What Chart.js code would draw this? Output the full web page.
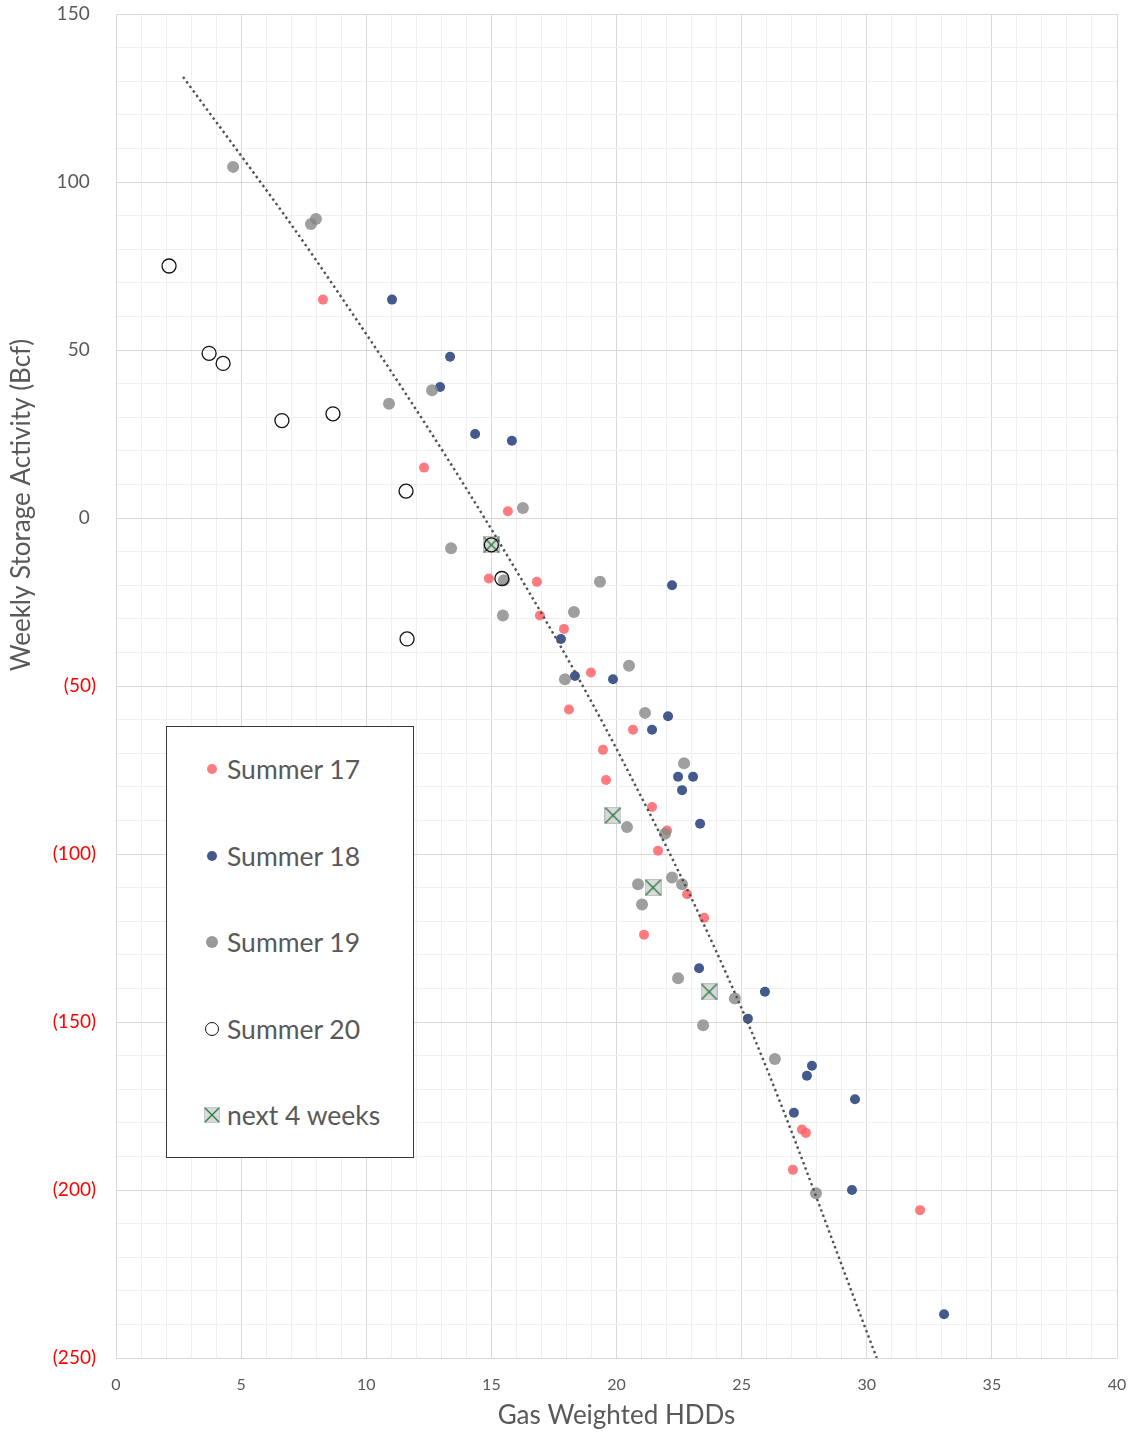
<!DOCTYPE html>
<html>
<head>
<meta charset="utf-8">
<script src="https://cdn.jsdelivr.net/npm/chart.js@4.4.1/dist/chart.umd.min.js"></script>
<style>
  body { margin: 0; background: #fff; }
  #wrap { position: relative; width: 1135px; height: 1433px; }
  #legend {
    position: absolute; left: 166px; top: 726px; width: 248px; height: 432px;
    box-sizing: border-box; border: 1px solid #3a3a3a; background: #fff;
    font-family: Lato, sans-serif; font-size: 26.5px; color: #595959;
  }
  .item { position: absolute; left: 0; height: 30px; line-height: 30px; white-space: nowrap; }
  .item span.txt { position: absolute; left: 60px; top: 0; }
  .item .mk { position: absolute; }
</style>
</head>
<body>
<div id="wrap">
  <canvas id="chart"></canvas>
  <div id="legend"></div>
</div>
<script>
// Summer 17
const s17x = [8.27, 12.31, 15.66, 14.9, 16.82, 16.94, 17.9, 18.98, 18.1, 20.66, 19.46, 19.58, 21.42, 22.02, 21.66, 22.82, 23.5, 21.1, 27.41, 27.57, 27.05, 32.13];
const s17y = [65, 15, 2, -18, -19, -29, -33, -46, -57, -63, -69, -78, -86, -93, -99, -112, -119, -124, -182, -183, -194, -206];
// Summer 18
const s18x = [11.03, 13.35, 12.95, 14.35, 15.82, 22.22, 17.78, 18.34, 19.86, 22.06, 21.42, 22.46, 23.06, 22.62, 23.34, 23.3, 25.93, 25.25, 27.81, 27.61, 29.53, 27.09, 29.41, 33.09];
const s18y = [65, 48, 39, 25, 23, -20, -36, -47, -48, -59, -63, -77, -77, -81, -91, -134, -141, -149, -163, -166, -173, -177, -200, -237];
// Summer 19
const s19x = [4.68, 7.99, 7.79, 12.63, 10.91, 16.26, 13.39, 15.5, 15.46, 19.34, 18.3, 20.5, 17.94, 21.14, 22.7, 20.42, 21.94, 22.22, 22.62, 20.86, 21.02, 22.46, 24.73, 23.46, 26.33, 27.97];
const s19y = [104.5, 89, 87.5, 38, 34, 3, -9, -18.5, -29, -19, -28, -44, -48, -58, -73, -92, -94, -107, -109, -109, -115, -137, -143, -151, -161, -201];
// Summer 20
const s20x = [2.12, 3.72, 4.28, 6.63, 8.67, 11.59, 15.0, 15.42, 11.63];
const s20y = [75, 49, 46, 29, 31, 8, -8, -18, -36];
// next 4 weeks
const n4x = [15.0, 19.86, 21.46, 23.7];
const n4y = [-8, -88.5, -110, -141];
// trend line
const trendX = [2.68, 7.99, 15.02, 20.02, 25.25, 30.4];
const trendY = [131.3, 76.8, -3.6, -69, -150.3, -250];

const xTicks = [0, 5, 10, 15, 20, 25, 30, 35, 40];
const yTicks = [150, 100, 50, 0, -50, -100, -150, -200, -250];

const pts = (xs, ys) => xs.map((x, i) => ({ x: x, y: ys[i] }));

const pink = 'rgba(255,100,106,0.85)';
const blue = 'rgba(58,80,134,0.95)';
const grey = 'rgba(135,135,135,0.8)';

// square with green X for "next 4 weeks"
function xBox(size) {
  const c = document.createElement('canvas');
  c.width = size; c.height = size;
  const g = c.getContext('2d');
  g.fillStyle = '#d9d9d9';
  g.fillRect(0.5, 0.5, size - 1, size - 1);
  g.strokeStyle = '#bfbfbf';
  g.lineWidth = 1;
  g.strokeRect(0.5, 0.5, size - 1, size - 1);
  g.strokeStyle = '#1f7a3c';
  g.lineWidth = 1.3;
  g.beginPath();
  g.moveTo(1, 1); g.lineTo(size - 1, size - 1);
  g.moveTo(size - 1, 1); g.lineTo(1, size - 1);
  g.stroke();
  return c;
}

const yTitle = {
  id: 'yTitle',
  afterDraw(chart) {
    const c = chart.ctx;
    c.save();
    c.translate(22, 505);
    c.rotate(-Math.PI / 2);
    c.font = '26px Lato';
    c.fillStyle = '#595959';
    c.textAlign = 'center';
    c.textBaseline = 'middle';
    c.fillText('Weekly Storage Activity (Bcf)', 0, 0);
    c.restore();
  }
};

const ctx = document.getElementById('chart').getContext('2d');
new Chart(ctx, {
  type: 'scatter',
  data: {
    datasets: [
      { label: 'trend', type: 'line', data: pts(trendX, trendY), borderColor: '#505050', borderWidth: 2.4,
        borderDash: [2.4, 3.2], borderCapStyle: 'butt', pointRadius: 0, cubicInterpolationMode: 'monotone', fill: false, order: 0 },
      { label: 'next 4 weeks', data: pts(n4x, n4y), pointStyle: xBox(17), order: 2 },
      { label: 'Summer 20', data: pts(s20x, s20y), pointRadius: 7, backgroundColor: 'rgba(0,0,0,0)',
        borderColor: '#111', borderWidth: 1.3, order: 1 },
      { label: 'Summer 19', data: pts(s19x, s19y), pointRadius: 6, backgroundColor: grey, borderWidth: 0, order: 3 },
      { label: 'Summer 18', data: pts(s18x, s18y), pointRadius: 5, backgroundColor: blue, borderWidth: 0, order: 4 },
      { label: 'Summer 17', data: pts(s17x, s17y), pointRadius: 5, backgroundColor: pink, borderWidth: 0, order: 5 }
    ]
  },
  options: {
    responsive: true,
    maintainAspectRatio: false,
    animation: false,
    layout: { padding: { top: 14, right: 18, left: 0, bottom: 0 } },
    plugins: { legend: { display: false }, tooltip: { enabled: false } },
    scales: {
      x: {
        type: 'linear', min: 0, max: 40,
        afterFit: s => { s.height = 75; s.paddingLeft = 0; s.paddingRight = 0; },
        ticks: {
          stepSize: 1, autoSkip: false, maxRotation: 0, padding: 17,
          font: { family: 'Lato', size: 16 }, color: '#595959',
          callback: v => xTicks.includes(v) ? String(v) : ''
        },
        grid: { drawTicks: false, color: c => c.tick && c.tick.value % 5 === 0 ? '#d9d9d9' : '#f0f0f0' },
        border: { color: '#d9d9d9' },
        title: { display: true, text: 'Gas Weighted HDDs', color: '#595959',
          font: { family: 'Lato', size: 26 }, padding: { top: 0, bottom: 2 } }
      },
      y: {
        type: 'linear', min: -250, max: 150,
        afterFit: s => { s.width = 116; s.paddingTop = 0; s.paddingBottom = 0; },
        ticks: {
          stepSize: 10, autoSkip: false, padding: 20,
          font: { family: 'Lato', size: 19 },
          color: c => c.tick.value < 0 ? '#ff0000' : '#595959',
          callback: v => yTicks.includes(v) ? (v < 0 ? '(' + (-v) + ')' : v + '\u2006\u2006') : ''
        },
        grid: { drawTicks: false, color: c => c.tick && c.tick.value % 50 === 0 ? '#d9d9d9' : '#f0f0f0' },
        border: { color: '#d9d9d9' }
      }
    }
  },
  plugins: [yTitle]
});

// legend
const legendItems = [
  { text: 'Summer 17', mk: '<div class="mk" style="left:40px;top:10px;width:10px;height:10px;border-radius:50%;background:#ff7c80"></div>' },
  { text: 'Summer 18', mk: '<div class="mk" style="left:40px;top:10px;width:10px;height:10px;border-radius:50%;background:#44588a"></div>' },
  { text: 'Summer 19', mk: '<div class="mk" style="left:39px;top:9px;width:12px;height:12px;border-radius:50%;background:#999"></div>' },
  { text: 'Summer 20', mk: '<div class="mk" style="left:38px;top:8px;width:12px;height:12px;border-radius:50%;border:1.3px solid #111"></div>' },
  { text: 'next 4 weeks', mk: '<svg class="mk" style="left:37px;top:7px" width="16" height="16"><rect x="0.5" y="0.5" width="15" height="15" fill="#d9d9d9" stroke="#c8c8c8"/><path d="M1 1L15 15M15 1L1 15" stroke="#1f7a3c" stroke-width="1.3"/></svg>' }
];
const legendTops = [27, 114, 200, 287, 373];
const lg = document.getElementById('legend');
legendItems.forEach((it, i) => {
  const d = document.createElement('div');
  d.className = 'item';
  d.style.top = legendTops[i] + 'px';
  d.innerHTML = it.mk + '<span class="txt">' + it.text + '</span>';
  lg.appendChild(d);
});
</script>
</body>
</html>
